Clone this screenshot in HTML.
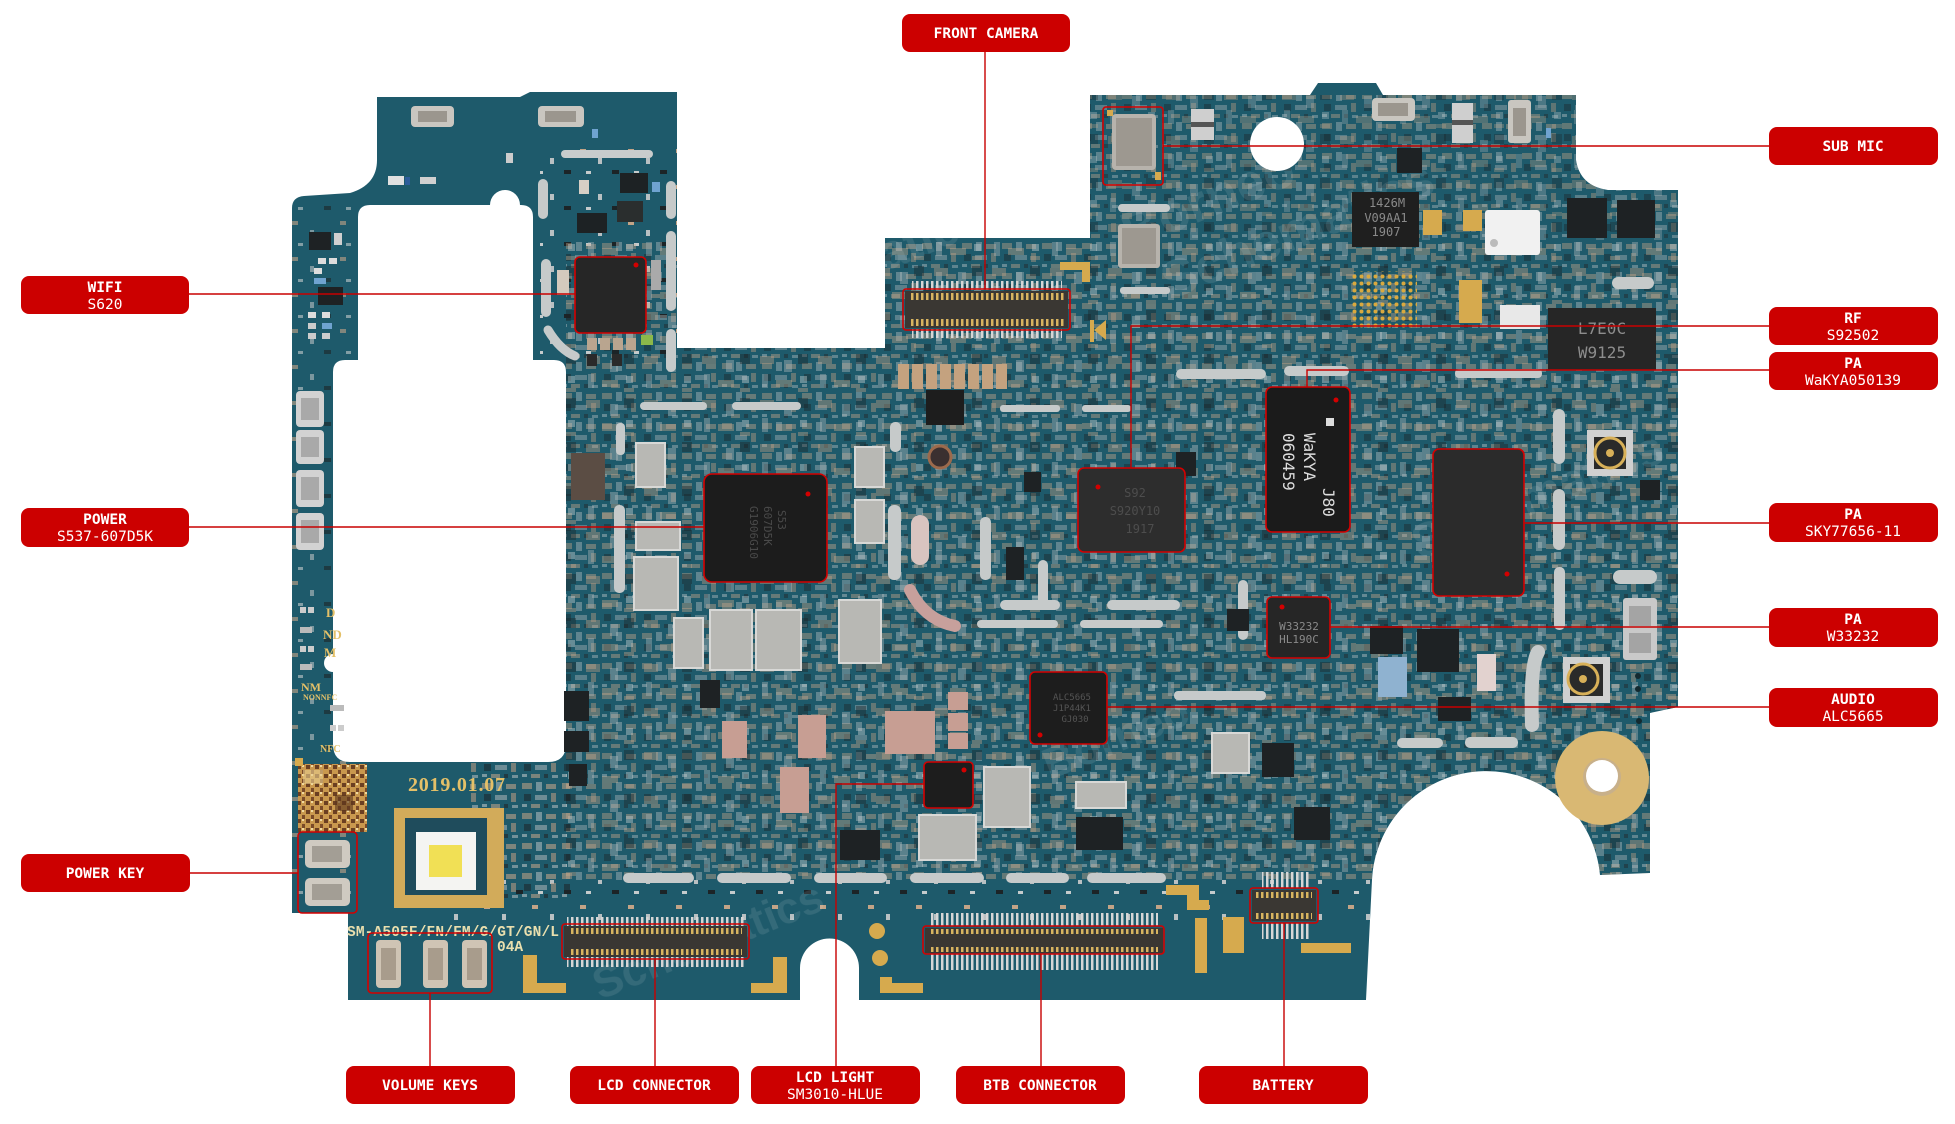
<!DOCTYPE html>
<html><head><meta charset="utf-8"><style>
html,body{margin:0;padding:0;background:#fff;}
svg{display:block;}
.lb{font-family:"DejaVu Sans Mono","Liberation Mono",monospace;font-size:14.5px;fill:#fff;text-anchor:middle;}
.b{font-weight:bold;}
</style></head><body>
<svg width="1955" height="1124" viewBox="0 0 1955 1124" xmlns="http://www.w3.org/2000/svg">
<defs>
<clipPath id="bc"><path d="M377 97 L520 97 L530 92 L677 92 L677 348 L885 348 L885 238 L1090 238 L1090 95 L1310 95 L1318 83 L1376 83 L1383 95 L1576 95 L1576 160 Q1580 186 1608 190 L1678 190 L1678 707 L1650 713 L1650 873 L1600 875 A114.3 114.3 0 0 0 1372 880 L1366 1000 L859 1000 L859 968 A29.5 29.5 0 0 0 800 968 L800 1000 L348 1000 L348 913 L292 913 L292 208 Q292 197 304 196 L350 193 Q377 185 377 160 Z"/></clipPath>
<pattern id="pd" width="40" height="30" patternUnits="userSpaceOnUse">
<rect x="2" y="3" width="10" height="6" fill="#c3a487"/><rect x="16" y="2" width="6" height="9" fill="#b9c0c2"/>
<rect x="26" y="4" width="10" height="5" fill="#caa98c"/><rect x="4" y="14" width="7" height="7" fill="#1c2427"/>
<rect x="15" y="15" width="12" height="5" fill="#aeb5b7"/><rect x="31" y="13" width="5" height="9" fill="#bf9e82"/>
<rect x="2" y="24" width="5" height="3" fill="#c5cbcc"/><rect x="11" y="24" width="9" height="4" fill="#c6a68a"/>
<rect x="24" y="24" width="4" height="4" fill="#222"/><rect x="32" y="25" width="6" height="3" fill="#b7bec0"/>
</pattern>
<pattern id="pd2" width="58" height="44" patternUnits="userSpaceOnUse">
<rect x="6" y="4" width="14" height="8" fill="#c2a083"/><rect x="30" y="8" width="8" height="12" fill="#b4bbbd"/>
<rect x="44" y="2" width="10" height="10" fill="#1b2225"/><rect x="8" y="22" width="6" height="14" fill="#b0b7b9"/>
<rect x="22" y="28" width="16" height="7" fill="#c9a98c"/><rect x="46" y="24" width="7" height="7" fill="#d2d6d6"/>
<rect x="44" y="36" width="10" height="4" fill="#c6a68a"/>
</pattern>
<pattern id="ps" width="48" height="36" patternUnits="userSpaceOnUse">
<rect x="4" y="5" width="6" height="4" fill="#c3a487"/><rect x="22" y="14" width="4" height="6" fill="#b9c0c2"/>
<rect x="36" y="26" width="7" height="4" fill="#1c2427"/><rect x="10" y="27" width="5" height="3" fill="#c5cbcc"/>
</pattern>
<pattern id="pg" width="5" height="8" patternUnits="userSpaceOnUse"><rect x="1" y="0" width="2.5" height="8" fill="#d8b460"/></pattern>
<pattern id="pss" width="5" height="8" patternUnits="userSpaceOnUse"><rect x="1" y="0" width="2.5" height="8" fill="#d6d6d6"/></pattern>
<pattern id="bga" width="7" height="7" patternUnits="userSpaceOnUse"><circle cx="3.5" cy="3.5" r="2" fill="#d9a93f"/></pattern>
<pattern id="qr" width="9" height="9" patternUnits="userSpaceOnUse"><rect width="9" height="9" fill="#c9984e"/><rect x="0" y="0" width="4" height="4" fill="#6b3f22"/><rect x="5" y="5" width="3" height="4" fill="#7a4a28"/><rect x="5" y="0" width="2" height="2" fill="#f0d9a0"/></pattern>
</defs>

<rect width="1955" height="1124" fill="#fff"/>

<!-- BOARD -->
<rect x="0" y="0" width="1955" height="1124" fill="#1e5a6b" clip-path="url(#bc)"/>
<g clip-path="url(#bc)">
  <rect x="540" y="140" width="140" height="215" fill="url(#ps)"/>
  <rect x="566" y="240" width="1115" height="640" fill="url(#pd)" opacity="0.42"/>
  <rect x="566" y="240" width="1115" height="640" fill="url(#pd2)" opacity="0.4"/>
  <rect x="1090" y="95" width="590" height="145" fill="url(#pd)" opacity="0.4"/>
  <rect x="1090" y="95" width="590" height="145" fill="url(#pd2)" opacity="0.3"/>
  <rect x="450" y="880" width="920" height="40" fill="url(#ps)"/>
  <rect x="470" y="760" width="100" height="140" fill="url(#pd)" opacity="0.55"/>
  <rect x="292" y="200" width="60" height="700" fill="url(#ps)" opacity="0.6"/>
</g>

<!-- Left cutout -->
<path d="M370 205 L490 205 A15 15 0 0 1 520 205 L521 205 Q533 205 533 217 L533 360 L554 360 Q566 360 566 372 L566 744 Q566 762 548 762 L350 762 Q333 762 333 744 L333 372 Q333 360 345 360 L358 360 L358 217 Q358 205 370 205 Z" fill="#fff"/>
<circle cx="333" cy="663" r="9" fill="#fff"/>

<!-- watermarks -->
<g font-family="Liberation Sans,sans-serif" font-weight="bold" fill="#ffffff" opacity="0.1">
<text transform="translate(1130 250) rotate(-22)" font-size="52">Borneo</text>
<text transform="translate(1170 300) rotate(-22)" font-size="52">Schematics</text>
<text transform="translate(740 330) rotate(-22)" font-size="48">Schematics</text>
<text transform="translate(1420 560) rotate(-22)" font-size="48">Schematics</text>
<text transform="translate(600 1000) rotate(-22)" font-size="44">Schematics</text>
<text transform="translate(1050 780) rotate(-22)" font-size="44">Borneo</text>
</g>

<!-- Left tab features -->
<rect x="411" y="106" width="43" height="21" rx="4" fill="#c9c6c0"/><rect x="418" y="111" width="29" height="11" fill="#9b968e"/>
<rect x="538" y="106" width="46" height="21" rx="4" fill="#c9c6c0"/><rect x="545" y="111" width="31" height="11" fill="#9b968e"/>
<rect x="592" y="129" width="6" height="9" fill="#6fa3d0"/>
<rect x="561" y="150" width="92" height="8" rx="4" fill="#c8cccc"/>
<rect x="388" y="176" width="16" height="9" fill="#e0e0e0"/><rect x="405" y="177" width="5" height="8" fill="#2d5d9a"/>
<rect x="420" y="177" width="16" height="7" fill="#d0d0d0"/><rect x="506" y="153" width="7" height="10" fill="#ccc"/>
<rect x="620" y="173" width="28" height="20" fill="#1d2224"/><rect x="617" y="201" width="26" height="21" fill="#2a2e2e"/>
<rect x="577" y="213" width="30" height="20" fill="#1d2224"/><rect x="579" y="180" width="10" height="14" fill="#d6cfc5"/>
<rect x="652" y="182" width="8" height="10" fill="#6fa3d0"/>
<rect x="538" y="179" width="10" height="40" rx="5" fill="#c6caca"/>
<rect x="541" y="259" width="10" height="58" rx="5" fill="#c6caca"/>
<rect x="666" y="181" width="10" height="38" rx="5" fill="#c6caca"/>
<rect x="666" y="231" width="10" height="80" rx="5" fill="#c6caca"/>
<rect x="666" y="329" width="10" height="43" rx="5" fill="#c6caca"/>
<path d="M548 330 Q560 350 575 356" stroke="#c6caca" stroke-width="9" fill="none" stroke-linecap="round"/>
<rect x="587" y="338" width="10" height="12" fill="#b9a58f"/><rect x="600" y="338" width="10" height="12" fill="#b9a58f"/><rect x="613" y="338" width="10" height="12" fill="#b9a58f"/><rect x="626" y="338" width="10" height="12" fill="#b9a58f"/>
<rect x="587" y="354" width="10" height="12" fill="#2a2a2a"/><rect x="612" y="354" width="10" height="12" fill="#2a2a2a"/>
<rect x="641" y="335" width="12" height="10" fill="#8bb84a"/>
<rect x="557" y="270" width="12" height="25" fill="#d4cabd"/>
<rect x="651" y="260" width="10" height="30" fill="#aaa"/>
<!-- WIFI chip -->
<rect x="575" y="257" width="71" height="76" rx="5" fill="#262626" stroke="#d40000" stroke-width="1.6"/>
<circle cx="636" cy="265" r="2.5" fill="#d40000"/>

<!-- Left strip features -->
<rect x="309" y="232" width="22" height="18" fill="#1e2224"/><rect x="334" y="233" width="8" height="12" fill="#d0d0d0"/>
<rect x="318" y="258" width="8" height="6" fill="#ddd"/><rect x="329" y="258" width="8" height="6" fill="#ddd"/>
<rect x="314" y="268" width="8" height="6" fill="#ddd"/><rect x="314" y="278" width="12" height="6" fill="#6fa3d0"/>
<rect x="318" y="287" width="25" height="18" fill="#1e2224"/>
<rect x="308" y="312" width="8" height="6" fill="#ddd"/><rect x="322" y="312" width="8" height="6" fill="#ddd"/>
<rect x="308" y="323" width="8" height="6" fill="#ccc"/><rect x="322" y="323" width="10" height="6" fill="#6fa3d0"/>
<rect x="308" y="333" width="8" height="6" fill="#ccc"/><rect x="322" y="333" width="8" height="6" fill="#ccc"/>
<rect x="296" y="391" width="28" height="36" rx="4" fill="#d2d2d2"/><rect x="301" y="398" width="18" height="22" fill="#a9a9a9"/>
<rect x="296" y="430" width="28" height="34" rx="4" fill="#d2d2d2"/><rect x="301" y="437" width="18" height="20" fill="#a9a9a9"/>
<rect x="296" y="470" width="28" height="37" rx="4" fill="#d2d2d2"/><rect x="301" y="477" width="18" height="23" fill="#a9a9a9"/>
<rect x="296" y="513" width="28" height="37" rx="4" fill="#d2d2d2"/><rect x="301" y="520" width="18" height="23" fill="#a9a9a9"/>
<rect x="300" y="607" width="6" height="6" fill="#ccc"/><rect x="308" y="607" width="6" height="6" fill="#ccc"/>
<rect x="300" y="627" width="12" height="6" fill="#bbb"/><rect x="300" y="646" width="6" height="6" fill="#ccc"/><rect x="308" y="646" width="6" height="6" fill="#ccc"/>
<rect x="300" y="664" width="12" height="6" fill="#bbb"/><rect x="330" y="705" width="14" height="6" fill="#bbb"/><rect x="330" y="725" width="6" height="6" fill="#ccc"/><rect x="338" y="725" width="6" height="6" fill="#ccc"/>
<g font-family="Liberation Serif,serif" font-weight="bold" fill="#e4c068">
<text x="326" y="617" font-size="13">D</text>
<text x="323" y="639" font-size="13">ND</text>
<text x="324" y="657" font-size="13">M</text>
<text x="301" y="691" font-size="12">NM</text>
<text x="303" y="700" font-size="8">NONNFC</text>
<text x="320" y="752" font-size="10">NFC</text>
</g>

<!-- QR & power key -->
<rect x="298" y="764" width="69" height="68" fill="url(#qr)"/>
<rect x="303" y="770" width="20" height="14" fill="#e9cf8f" opacity="0.6"/><rect x="335" y="795" width="18" height="16" fill="#5c351c" opacity="0.6"/>
<rect x="305" y="840" width="45" height="28" rx="5" fill="#cfcac1"/><rect x="312" y="846" width="30" height="16" fill="#a39e95"/>
<rect x="305" y="878" width="45" height="28" rx="5" fill="#cfcac1"/><rect x="312" y="884" width="30" height="16" fill="#a39e95"/>
<rect x="298" y="832" width="59" height="81" rx="4" fill="none" stroke="#d40000" stroke-width="1.6"/>

<!-- LED -->
<rect x="394" y="808" width="110" height="100" fill="#d2ab5a"/>
<rect x="405" y="818" width="82" height="77" fill="#1f4c5c"/>
<rect x="416" y="832" width="60" height="58" fill="#f4f4f2"/>
<rect x="429" y="845" width="33" height="32" fill="#f1e055"/>
<text x="408" y="791" font-family="Liberation Serif,serif" font-weight="bold" font-size="20" fill="#e4c068" textLength="97">2019.01.07</text>
<text x="347" y="936" font-family="Liberation Mono,monospace" font-weight="bold" font-size="14.5" fill="#e9dfae" textLength="212">SM-A505F/FN/FM/G/GT/GN/L</text>
<text x="497" y="951" font-family="Liberation Mono,monospace" font-weight="bold" font-size="14.5" fill="#e9dfae">04A</text>

<!-- Volume keys -->
<rect x="376" y="940" width="25" height="48" rx="4" fill="#cfc4b4"/><rect x="381" y="948" width="15" height="32" fill="#a89c8c"/>
<rect x="423" y="940" width="25" height="48" rx="4" fill="#cfc4b4"/><rect x="428" y="948" width="15" height="32" fill="#a89c8c"/>
<rect x="462" y="940" width="25" height="48" rx="4" fill="#cfc4b4"/><rect x="467" y="948" width="15" height="32" fill="#a89c8c"/>
<rect x="368" y="933" width="124" height="60" rx="4" fill="none" stroke="#d40000" stroke-width="1.6"/>

<!-- Gold L marks bottom -->
<g fill="#d6aa4e">
<rect x="523" y="955" width="14" height="38"/><rect x="523" y="983" width="43" height="10"/>
<rect x="773" y="957" width="14" height="36"/><rect x="751" y="983" width="36" height="10"/>
<rect x="880" y="977" width="12" height="16"/><rect x="880" y="983" width="43" height="10"/>
<rect x="1166" y="885" width="25" height="10"/><rect x="1187" y="885" width="12" height="25"/><rect x="1199" y="900" width="10" height="10"/>
<rect x="1195" y="918" width="12" height="55"/>
<rect x="1223" y="917" width="21" height="36"/>
<rect x="1301" y="943" width="50" height="10"/>
<circle cx="877" cy="931" r="8"/><circle cx="880" cy="958" r="8"/>
<rect x="1060" y="262" width="30" height="8"/><rect x="1082" y="262" width="8" height="20"/>
<path d="M1094 330 L1106 340 L1106 320 Z"/><rect x="1090" y="320" width="4" height="22"/>
<rect x="295" y="758" width="8" height="8"/>
</g>

<!-- LCD connector -->
<rect x="567" y="917" width="178" height="10" fill="url(#pss)"/>
<rect x="567" y="957" width="178" height="10" fill="url(#pss)"/>
<rect x="564" y="926" width="183" height="31" fill="#3a3733"/>
<rect x="570" y="928" width="172" height="6" fill="url(#pg)"/>
<rect x="570" y="949" width="172" height="6" fill="url(#pg)"/>
<rect x="562" y="924" width="187" height="35" rx="3" fill="none" stroke="#d40000" stroke-width="1.6"/>

<!-- BTB connector -->
<rect x="930" y="913" width="228" height="13" fill="url(#pss)"/>
<rect x="930" y="954" width="228" height="16" fill="url(#pss)"/>
<rect x="925" y="928" width="238" height="25" fill="#3a3733"/>
<rect x="930" y="929" width="228" height="5" fill="url(#pg)"/>
<rect x="930" y="947" width="228" height="5" fill="url(#pg)"/>
<rect x="923" y="926" width="241" height="28" rx="3" fill="none" stroke="#d40000" stroke-width="1.6"/>

<!-- Battery connector -->
<rect x="1262" y="872" width="48" height="16" fill="url(#pss)"/>
<rect x="1262" y="923" width="48" height="16" fill="url(#pss)"/>
<rect x="1252" y="890" width="64" height="31" fill="#3a3733"/>
<rect x="1256" y="892" width="56" height="6" fill="url(#pg)"/><rect x="1256" y="913" width="56" height="6" fill="url(#pg)"/>
<rect x="1250" y="888" width="68" height="35" rx="3" fill="none" stroke="#d40000" stroke-width="1.6"/>

<!-- Front camera connector -->
<rect x="912" y="281" width="150" height="9" fill="url(#pss)"/>
<rect x="912" y="329" width="150" height="9" fill="url(#pss)"/>
<rect x="905" y="291" width="163" height="37" fill="#3a3733"/>
<rect x="910" y="293" width="154" height="7" fill="url(#pg)"/><rect x="910" y="319" width="154" height="7" fill="url(#pg)"/>
<rect x="903" y="289" width="167" height="41" rx="3" fill="none" stroke="#d40000" stroke-width="1.6"/>

<!-- Middle area -->
<g fill="#c4a27f">
<rect x="898" y="364" width="11" height="25"/><rect x="912" y="364" width="11" height="25"/><rect x="926" y="364" width="11" height="25"/><rect x="940" y="364" width="11" height="25"/><rect x="954" y="364" width="11" height="25"/><rect x="968" y="364" width="11" height="25"/><rect x="982" y="364" width="11" height="25"/><rect x="996" y="364" width="11" height="25"/>
</g>
<rect x="926" y="390" width="38" height="35" fill="#1d1d1d"/>
<circle cx="940" cy="457" r="11" fill="#3a3030" stroke="#9c6a4c" stroke-width="3"/>
<g fill="#c6caca">
<rect x="640" y="402" width="67" height="8" rx="4"/><rect x="732" y="402" width="69" height="8" rx="4"/>
<rect x="1000" y="405" width="60" height="7" rx="3"/><rect x="1082" y="405" width="49" height="7" rx="3"/>
<rect x="1176" y="369" width="90" height="10" rx="5"/><rect x="1284" y="366" width="65" height="10" rx="5"/><rect x="1455" y="369" width="87" height="9" rx="4"/>
<rect x="890" y="422" width="11" height="30" rx="5"/><rect x="616" y="423" width="9" height="32" rx="4"/>
<rect x="614" y="505" width="11" height="88" rx="5"/><rect x="888" y="505" width="13" height="75" rx="6"/><rect x="980" y="517" width="11" height="63" rx="5"/>
<rect x="1000" y="600" width="60" height="10" rx="5"/><rect x="1107" y="600" width="73" height="10" rx="5"/>
<rect x="977" y="620" width="81" height="8" rx="4"/><rect x="1080" y="620" width="83" height="8" rx="4"/>
<rect x="623" y="873" width="71" height="10" rx="5"/><rect x="717" y="873" width="74" height="10" rx="5"/><rect x="814" y="873" width="73" height="10" rx="5"/><rect x="910" y="873" width="74" height="10" rx="5"/><rect x="1006" y="873" width="63" height="10" rx="5"/><rect x="1087" y="873" width="79" height="10" rx="5"/>
<rect x="1118" y="204" width="52" height="8" rx="4"/><rect x="1120" y="287" width="50" height="7" rx="3"/><rect x="1612" y="277" width="42" height="12" rx="6"/>
<rect x="1553" y="409" width="12" height="55" rx="6"/><rect x="1553" y="489" width="12" height="61" rx="6"/><rect x="1554" y="567" width="11" height="63" rx="5"/>
<rect x="1613" y="570" width="44" height="14" rx="7"/>
<rect x="1397" y="738" width="46" height="10" rx="5"/><rect x="1465" y="737" width="53" height="11" rx="5"/>
<rect x="1174" y="691" width="92" height="9" rx="4"/>
<rect x="1238" y="580" width="10" height="60" rx="5"/><rect x="1038" y="560" width="10" height="50" rx="5"/>
</g>
<path d="M1538 652 Q1530 665 1532 725" stroke="#c6caca" stroke-width="14" fill="none" stroke-linecap="round"/>
<path d="M910 590 Q925 620 955 626" stroke="#c7a09c" stroke-width="12" fill="none" stroke-linecap="round"/>
<rect x="911" y="515" width="18" height="50" rx="9" fill="#d8c4c0"/>
<!-- silver inductors -->
<g fill="#b8b8b4" stroke="#d8d8d6" stroke-width="2">
<rect x="634" y="557" width="44" height="53"/><rect x="710" y="610" width="42" height="60"/><rect x="756" y="610" width="45" height="60"/>
<rect x="674" y="618" width="29" height="50"/><rect x="839" y="600" width="42" height="63"/><rect x="636" y="443" width="29" height="44"/>
<rect x="636" y="522" width="44" height="28"/><rect x="855" y="447" width="29" height="40"/><rect x="855" y="500" width="29" height="43"/>
<rect x="984" y="767" width="46" height="60"/><rect x="919" y="815" width="57" height="45"/><rect x="1076" y="782" width="50" height="26"/>
<rect x="1212" y="733" width="37" height="40"/>
</g>
<rect x="1623" y="598" width="34" height="62" rx="3" fill="#c9c9c9"/><rect x="1629" y="606" width="22" height="20" fill="#a4a4a4"/><rect x="1629" y="633" width="22" height="20" fill="#a4a4a4"/>
<rect x="571" y="453" width="34" height="47" fill="#5b4d44"/>
<g fill="#c79e93">
<rect x="780" y="767" width="29" height="46"/><rect x="722" y="721" width="25" height="37"/><rect x="798" y="715" width="28" height="43"/>
<rect x="885" y="711" width="50" height="43"/><rect x="948" y="692" width="20" height="18"/><rect x="948" y="713" width="20" height="18"/><rect x="948" y="733" width="20" height="16"/>
</g>
<!-- small dark chips -->
<g fill="#1e2224">
<rect x="1024" y="472" width="17" height="20"/><rect x="1006" y="547" width="18" height="33"/><rect x="564" y="691" width="25" height="30"/>
<rect x="564" y="731" width="25" height="21"/><rect x="569" y="764" width="18" height="22"/><rect x="1076" y="817" width="47" height="33"/>
<rect x="1262" y="743" width="32" height="34"/><rect x="1294" y="807" width="36" height="33"/><rect x="1417" y="629" width="42" height="43"/>
<rect x="1370" y="626" width="33" height="28"/><rect x="1438" y="697" width="33" height="24"/><rect x="1227" y="609" width="22" height="22"/>
<rect x="1567" y="198" width="40" height="40"/><rect x="1617" y="200" width="38" height="38"/><rect x="1176" y="452" width="20" height="24"/>
<rect x="1640" y="480" width="20" height="20"/>
<rect x="840" y="830" width="40" height="30"/><rect x="700" y="680" width="20" height="28"/>
</g>
<rect x="1378" y="657" width="29" height="40" fill="#8fb2d0"/>
<rect x="1477" y="654" width="19" height="37" fill="#e2d2cf"/>

<!-- Power chip -->
<rect x="704" y="474" width="123" height="108" rx="8" fill="#1c1c1c" stroke="#d40000" stroke-width="1.6"/>
<circle cx="808" cy="494" r="2.5" fill="#d40000"/>
<g font-family="DejaVu Sans Mono,monospace" font-size="11" fill="#4a4a4a">
<text transform="translate(778 510) rotate(90)">S53</text>
<text transform="translate(764 506) rotate(90)">607D5K</text>
<text transform="translate(750 506) rotate(90)">G1906G10</text>
</g>

<!-- Top right area -->
<circle cx="1277" cy="144" r="27" fill="#fff"/>
<rect x="1191" y="109" width="23" height="31" fill="#cfcfcf"/><rect x="1191" y="122" width="23" height="5" fill="#555"/>
<rect x="1372" y="98" width="43" height="23" rx="4" fill="#c9c6c0"/><rect x="1378" y="103" width="30" height="13" fill="#9b968e"/>
<rect x="1452" y="103" width="21" height="40" fill="#cfcfcf"/><rect x="1452" y="120" width="21" height="5" fill="#555"/>
<rect x="1508" y="100" width="23" height="43" rx="3" fill="#c9c6c0"/><rect x="1513" y="108" width="13" height="28" fill="#9b968e"/>
<rect x="1546" y="128" width="5" height="10" fill="#6fa3d0"/>
<rect x="1397" y="148" width="25" height="25" fill="#1e2224"/>
<!-- sub mic -->
<rect x="1112" y="114" width="44" height="56" rx="4" fill="#b7b3ac"/><rect x="1116" y="118" width="36" height="48" fill="#9d9890"/>
<rect x="1107" y="110" width="6" height="6" fill="#d6aa4e"/><rect x="1155" y="172" width="6" height="8" fill="#d6aa4e"/>
<rect x="1103" y="107" width="60" height="78" rx="3" fill="none" stroke="#d40000" stroke-width="1.6"/>
<rect x="1118" y="224" width="42" height="44" rx="3" fill="#b7b3ac"/><rect x="1122" y="228" width="34" height="36" fill="#9d9890"/>
<!-- 1426M chip -->
<rect x="1352" y="192" width="67" height="55" fill="#1f1f1f"/>
<g font-family="DejaVu Sans Mono,monospace" font-size="12" fill="#8a8a8a" text-anchor="middle">
<text x="1387" y="207">1426M</text><text x="1386" y="222">V09AA1</text><text x="1386" y="236">1907</text>
</g>
<rect x="1351" y="271" width="66" height="58" fill="url(#bga)"/>
<rect x="1423" y="210" width="19" height="25" fill="#d6aa4e"/><rect x="1463" y="210" width="19" height="21" fill="#d6aa4e"/><rect x="1459" y="280" width="23" height="43" fill="#d6aa4e"/>
<rect x="1485" y="210" width="55" height="45" rx="3" fill="#f1f1f1"/><circle cx="1494" cy="243" r="4" fill="#bbb"/>
<rect x="1500" y="305" width="40" height="24" fill="#e8e8e8"/>
<!-- L7E0C -->
<rect x="1548" y="308" width="108" height="62" fill="#262626"/>
<g font-family="DejaVu Sans Mono,monospace" font-size="16" fill="#8d8d8d" text-anchor="middle">
<text x="1602" y="334">L7E0C</text><text x="1602" y="358">W9125</text>
</g>
<!-- coax -->
<rect x="1587" y="430" width="46" height="46" fill="#d0d0d0"/><rect x="1594" y="437" width="32" height="32" fill="#2a2a2a"/>
<circle cx="1610" cy="453" r="15" fill="#2a2a2a" stroke="#d8b058" stroke-width="3"/><circle cx="1610" cy="453" r="4" fill="#d8b058"/>
<rect x="1563" y="657" width="47" height="46" fill="#d0d0d0"/><rect x="1570" y="664" width="33" height="32" fill="#2a2a2a"/>
<circle cx="1583" cy="679" r="15" fill="#2a2a2a" stroke="#d8b058" stroke-width="3"/><circle cx="1583" cy="679" r="4" fill="#d8b058"/>
<!-- gold ring -->
<circle cx="1602" cy="778" r="47" fill="#d9b873"/>
<circle cx="1602" cy="777" r="19" fill="#c8b08a"/>
<circle cx="1602" cy="776" r="16" fill="#fff"/>
<circle cx="1638" cy="676" r="3" fill="#142a30"/><circle cx="1638" cy="689" r="3" fill="#142a30"/><circle cx="1639" cy="721" r="3" fill="#142a30"/>

<!-- RF chip S92502 -->
<rect x="1078" y="468" width="107" height="84" rx="6" fill="#2d2d2d" stroke="#d40000" stroke-width="1.6"/>
<circle cx="1098" cy="487" r="2.5" fill="#d40000"/>
<g font-family="DejaVu Sans Mono,monospace" font-size="12" fill="#4d4d4d" text-anchor="middle"><text x="1135" y="497">S92</text><text x="1135" y="515">S920Y10</text><text x="1140" y="533">1917</text></g>
<!-- WaKYA chip -->
<rect x="1266" y="387" width="84" height="145" rx="6" fill="#1b1b1b" stroke="#d40000" stroke-width="1.6"/>
<rect x="1326" y="418" width="8" height="8" fill="#ddd"/><circle cx="1336" cy="400" r="2.5" fill="#d40000"/>
<g font-family="DejaVu Sans Mono,monospace" font-size="16" fill="#dcdcdc">
<text transform="translate(1304 433) rotate(90)">WaKYA</text>
<text transform="translate(1283 433) rotate(90)">060459</text>
<text transform="translate(1323 488) rotate(90)">J80</text>
</g>
<!-- SKY chip -->
<rect x="1433" y="449" width="91" height="147" rx="6" fill="#2b2b2b" stroke="#d40000" stroke-width="1.6"/>
<circle cx="1507" cy="574" r="2.5" fill="#d40000"/>
<!-- W33232 -->
<rect x="1267" y="597" width="63" height="61" rx="5" fill="#262626" stroke="#d40000" stroke-width="1.6"/>
<circle cx="1282" cy="607" r="2.5" fill="#d40000"/>
<g font-family="DejaVu Sans Mono,monospace" font-size="11" fill="#8a8a8a" text-anchor="middle"><text x="1299" y="630">W33232</text><text x="1299" y="643">HL190C</text></g>
<!-- Audio chip -->
<rect x="1030" y="672" width="77" height="72" rx="5" fill="#1d1d1d" stroke="#d40000" stroke-width="1.6"/>
<circle cx="1040" cy="735" r="2.5" fill="#d40000"/>
<g font-family="DejaVu Sans Mono,monospace" font-size="9" fill="#555" text-anchor="middle"><text x="1072" y="700">ALC5665</text><text x="1072" y="711">J1P44K1</text><text x="1075" y="722">GJ030</text></g>
<!-- LCD light chip -->
<rect x="924" y="762" width="49" height="46" rx="4" fill="#1d1d1d" stroke="#d40000" stroke-width="1.6"/>
<circle cx="964" cy="770" r="2.5" fill="#d40000"/>

<!-- CONNECTOR LINES -->
<g stroke="#c80000" stroke-width="1.4" fill="none">
<path d="M985 52 V289"/>
<path d="M1163 146 H1769"/>
<path d="M189 294 H575"/>
<path d="M1769 326 H1131 V468"/>
<path d="M1769 370 H1307 V387"/>
<path d="M189 527 H704"/>
<path d="M1524 523 H1769"/>
<path d="M1330 627 H1769"/>
<path d="M1107 707 H1769"/>
<path d="M190 873 H298"/>
<path d="M430 993 V1066"/>
<path d="M655 959 V1066"/>
<path d="M836 1066 V784 H924"/>
<path d="M1041 954 V1066"/>
<path d="M1284 923 V1066"/>
</g>

<!-- LABELS -->
<g fill="#cc0000">
<rect x="902" y="14" width="168" height="38" rx="8"/>
<rect x="1769" y="127" width="169" height="38" rx="8"/>
<rect x="21" y="276" width="168" height="38" rx="8"/>
<rect x="1769" y="307" width="169" height="38" rx="8"/>
<rect x="1769" y="352" width="169" height="38" rx="8"/>
<rect x="21" y="508" width="168" height="39" rx="8"/>
<rect x="1769" y="503" width="169" height="39" rx="8"/>
<rect x="1769" y="608" width="169" height="39" rx="8"/>
<rect x="1769" y="688" width="169" height="39" rx="8"/>
<rect x="21" y="854" width="169" height="38" rx="8"/>
<rect x="346" y="1066" width="169" height="38" rx="8"/>
<rect x="570" y="1066" width="169" height="38" rx="8"/>
<rect x="751" y="1066" width="169" height="38" rx="8"/>
<rect x="956" y="1066" width="169" height="38" rx="8"/>
<rect x="1199" y="1066" width="169" height="38" rx="8"/>
</g>
<g class="lb">
<text class="b" x="986" y="38">FRONT CAMERA</text>
<text class="b" x="1853" y="151">SUB MIC</text>
<text class="b" x="105" y="292">WIFI</text><text x="105" y="309">S620</text>
<text class="b" x="1853" y="323">RF</text><text x="1853" y="340">S92502</text>
<text class="b" x="1853" y="368">PA</text><text x="1853" y="385">WaKYA050139</text>
<text class="b" x="105" y="524">POWER</text><text x="105" y="541">S537-607D5K</text>
<text class="b" x="1853" y="519">PA</text><text x="1853" y="536">SKY77656-11</text>
<text class="b" x="1853" y="624">PA</text><text x="1853" y="641">W33232</text>
<text class="b" x="1853" y="704">AUDIO</text><text x="1853" y="721">ALC5665</text>
<text class="b" x="105" y="878">POWER KEY</text>
<text class="b" x="430" y="1090">VOLUME KEYS</text>
<text class="b" x="654" y="1090">LCD CONNECTOR</text>
<text class="b" x="835" y="1082">LCD LIGHT</text><text x="835" y="1099">SM3010-HLUE</text>
<text class="b" x="1040" y="1090">BTB CONNECTOR</text>
<text class="b" x="1283" y="1090">BATTERY</text>
</g>
</svg>
</body></html>
